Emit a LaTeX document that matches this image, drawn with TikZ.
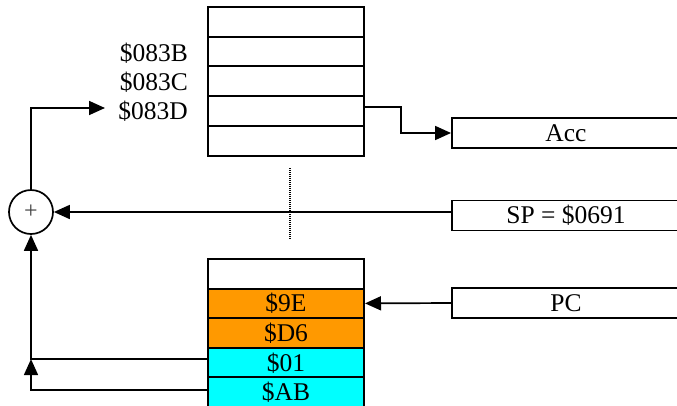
\documentclass[tikz,border=0pt]{standalone}
\usepackage{fontspec}
\setmainfont{Liberation Serif}
\usetikzlibrary{arrows.meta}
\definecolor{cellorange}{HTML}{FF9900}
\definecolor{cellcyan}{HTML}{00FFFF}
\begin{document}
\begin{tikzpicture}[x=1pt,y=-1pt,
  every node/.style={font=\fontsize{25.5}{25.5}\selectfont},
  cell/.style={draw, line width=2pt, minimum width=156pt, minimum height=29.7pt,
    inner sep=0pt, text height=16.8pt, text depth=0pt},
  reg/.style={draw, line width=1.9pt, minimum width=228pt, minimum height=30pt,
    inner sep=0pt, text height=16.8pt, text depth=0pt},
  addrlabel/.style={anchor=base east, inner sep=0pt},
  wire/.style={line width=1.7pt},
  tip/.style={-{Triangle[length=16pt,width=14pt]}},
  adder/.style={circle, draw, line width=1.7pt, minimum size=44pt, inner sep=0pt, text=black!75},
]
\useasboundingbox (0,0) rectangle (677,405);
\clip (0,0) rectangle (677,405);

% upper memory block
\node[cell] (t1) at (286,21.85) {};
\node[cell] (t2) at (286,51.55) {};
\node[cell] (t3) at (286,81.25) {};
\node[cell] (t4) at (286,110.95) {};
\node[cell] (t5) at (286,140.65) {};

% addresses
\node[addrlabel] (aB) at (188,61.5) {\$083B};
\node[addrlabel] (aC) at (188,90.5) {\$083C};
\node[addrlabel] (aD) at (188,119.5) {\$083D};

% lower memory block (stack)
\node[cell] (b1) at (286,273.8) {};
\node[cell, fill=cellorange] (b2) at (286,303.4) {\$9E};
\node[cell, fill=cellorange] (b3) at (286,333.0) {\$D6};
\node[cell, fill=cellcyan] (b4) at (286,362.6) {\$01};
\node[cell, fill=cellcyan] (b5) at (286,392.2) {\$AB};

% registers
\node[reg] (acc) at (566,133) {Acc};
\node[reg] (sp) at (566,215.5) {SP = \$0691};
\node[reg] (pc) at (566,303) {PC};

% adder
\node[adder] (plus) at (31,212) {\fontsize{24}{24}\selectfont +};

% gap between the two blocks
\coordinate (gapTop) at (290,168);
\coordinate (gapBot) at (290,240);
\draw[line width=1.4pt, dash pattern=on 1pt off 1pt] (gapTop) -- (gapBot);

% connectors
\coordinate (addr) at (105,108);
\draw[wire,tip] (plus.north) |- (addr);
\draw[wire,tip] ([yshift=4pt]t4.east) -- ++(36,0) |- (acc.west);
\draw[wire,tip] (plus.east -| sp.west) -- (plus.east);
\draw[wire,tip] (pc.west) -- (b2.east);
\coordinate (j01) at ([yshift=3.5pt]b4.west);
\draw[wire,tip] (j01) -| (plus.south);
\draw[wire,tip] ([yshift=2pt]b5.west) -| (plus.south |- j01);
\end{tikzpicture}
\end{document}
